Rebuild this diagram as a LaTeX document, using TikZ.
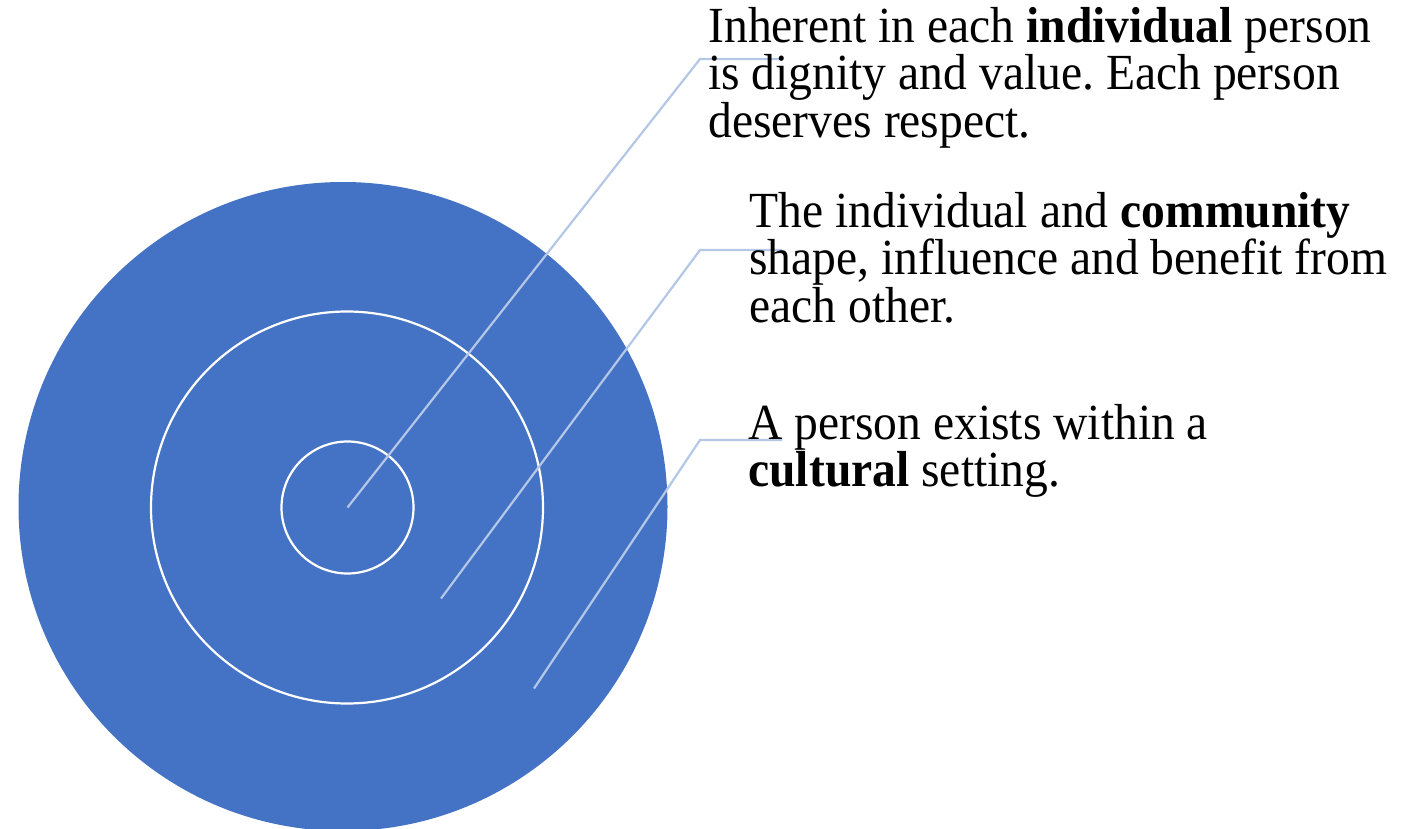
\documentclass[tikz,border=0pt]{standalone}
\usepackage{fontspec}
\setmainfont{Liberation Serif}[FakeStretch=0.94]
\frenchspacing
\usetikzlibrary{calc,
	positioning,
	shapes.geometric}

\definecolor{ringblue}{HTML}{4472C4}
\definecolor{leadline}{HTML}{B4C7E7}

\begin{document}
\begin{tikzpicture}[x=0.5pt,y=-0.5pt,
	ring/.style={draw=white, line width=1.1pt},
	leader/.style={draw=leadline, line width=1.1pt},
	callout/.style={anchor=base west, align=left, inner sep=0pt,
		font=\fontsize{25.3}{23.75}\selectfont}]
\useasboundingbox (0,0) rectangle (1419,829);

% nested levels: culture, community, person
\fill[ringblue] (343,506.5) circle (324.5);
\draw[ring] (347,507.5) circle (196);
\draw[ring] (347.5,507.5) circle (66);

% where the leaders start and bend
\coordinate (person) at (347.5,507.5);
\coordinate (group) at (441,598.5);
\coordinate (culture) at (534,688.5);
\coordinate (bendA) at (700,59);
\coordinate (bendB) at (700,250);
\coordinate (bendC) at (700,440);
\coordinate (endA) at (782,59);
\coordinate (endB) at (782,250);
\coordinate (endC) at (782,440);

\foreach \from/\via/\to in {person/bendA/endA, group/bendB/endB, culture/bendC/endC}{
	\draw[leader] (\from) -- (\via) -- (\to);
}

% the three statements (placed by the baseline of their last line)
\node[callout] (individual) at (708,137.5) {Inherent in each \textbf{individual} person\\is dignity and value. Each person\\deserves respect.};
\node[callout] (community) at (749,322) {The individual and \textbf{community}\\shape, influence and benefit from\\each other.};
\node[callout] (cultural) at (748,486.5) {A person exists within a\\\textbf{cultural} setting.};
\end{tikzpicture}
\end{document}
